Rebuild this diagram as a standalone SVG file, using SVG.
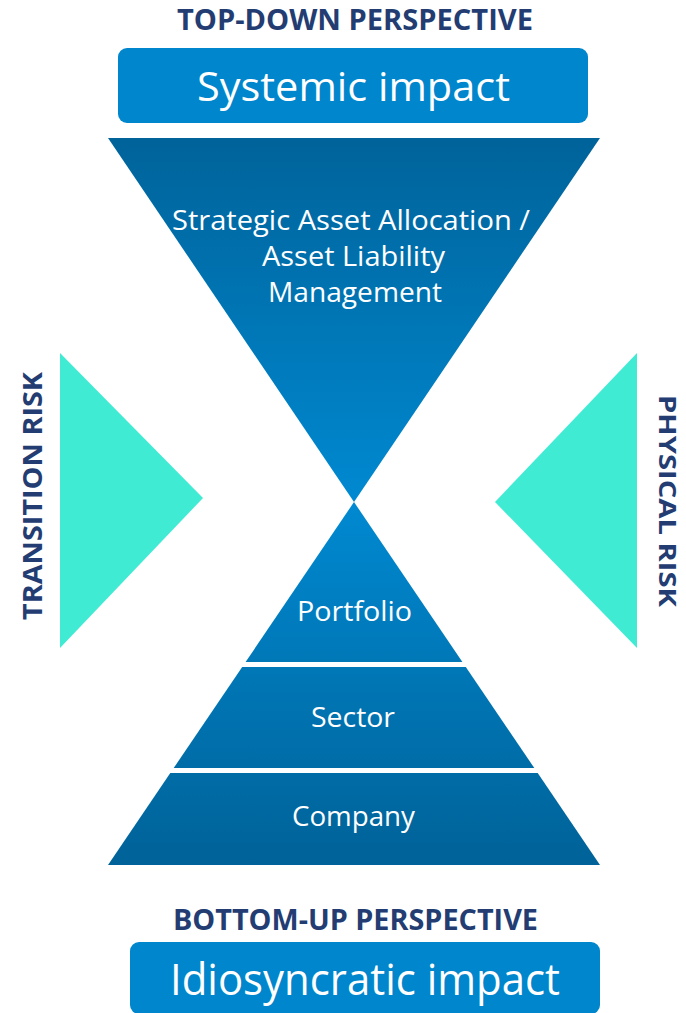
<svg xmlns="http://www.w3.org/2000/svg" width="686" height="1013" viewBox="0 0 686 1013">
  <defs>
    <linearGradient id="gTop" gradientUnits="userSpaceOnUse" x1="0" y1="138" x2="0" y2="502">
      <stop offset="0" stop-color="#00639A"/>
      <stop offset="1" stop-color="#0089D1"/>
    </linearGradient>
    <linearGradient id="gPyr" gradientUnits="userSpaceOnUse" x1="0" y1="502" x2="0" y2="865">
      <stop offset="0" stop-color="#0089D1"/>
      <stop offset="1" stop-color="#006298"/>
    </linearGradient>
    <style>
      .head { font-family: "Open Sans", "Noto Sans", "Liberation Sans", sans-serif; font-weight: 700; fill: #233D73; }
      .box { fill: #0086CC; }
      .boxtxt { font-family: "Open Sans", "Noto Sans", "Liberation Sans", sans-serif; font-weight: 400; fill: #FFFFFF; text-anchor: middle; }
      .lbl { font-family: "Open Sans", "Noto Sans", "Liberation Sans", sans-serif; font-weight: 400; fill: #FFFFFF; font-size: 27px; text-anchor: middle; }
      .teal { fill: #40EBD4; }
    </style>
  </defs>
  <rect width="686" height="1013" fill="#FFFFFF"/>

  <g id="top-heading">
    <text class="head" x="177" y="30" font-size="28" textLength="356" lengthAdjust="spacingAndGlyphs">TOP-DOWN PERSPECTIVE</text>
  </g>
  <g id="systemic-impact">
    <rect class="box" x="118" y="48" width="470" height="75" rx="9"/>
    <text class="boxtxt" x="353.5" y="101" font-size="40" textLength="313" lengthAdjust="spacingAndGlyphs">Systemic impact</text>
  </g>

  <g id="saa-alm">
    <polygon points="108,138 600,138 354,502" fill="url(#gTop)"/>
    <text class="lbl" x="351" y="230" textLength="358" lengthAdjust="spacingAndGlyphs">Strategic Asset Allocation /</text>
    <text class="lbl" x="353.5" y="266" textLength="183" lengthAdjust="spacingAndGlyphs">Asset Liability</text>
    <text class="lbl" x="355" y="302" textLength="174" lengthAdjust="spacingAndGlyphs">Management</text>
  </g>

  <g id="transition-risk">
    <polygon class="teal" points="60,353 203,498 60,648"/>
    <text class="head" transform="translate(42,496) rotate(-90)" text-anchor="middle" font-size="27" textLength="248" lengthAdjust="spacingAndGlyphs">TRANSITION RISK</text>
  </g>

  <g id="physical-risk">
    <polygon class="teal" points="637,353 495,502 637,648"/>
    <text class="head" transform="translate(659,501) rotate(90)" text-anchor="middle" font-size="24" textLength="212" lengthAdjust="spacingAndGlyphs">PHYSICAL RISK</text>
  </g>

  <g id="portfolio">
    <polygon points="354,502 462.4,662 245.6,662" fill="url(#gPyr)"/>
    <text class="lbl" x="354.5" y="621" textLength="115" lengthAdjust="spacingAndGlyphs">Portfolio</text>
  </g>
  <g id="sector">
    <polygon points="242.2,667 465.8,667 534.3,768 173.7,768" fill="url(#gPyr)"/>
    <text class="lbl" x="353" y="727" textLength="84" lengthAdjust="spacingAndGlyphs">Sector</text>
  </g>
  <g id="company">
    <polygon points="170.3,773 537.7,773 600,865 108,865" fill="url(#gPyr)"/>
    <text class="lbl" x="353.5" y="826" textLength="123" lengthAdjust="spacingAndGlyphs">Company</text>
  </g>

  <g id="bottom-heading">
    <text class="head" x="173" y="930" font-size="28" textLength="365" lengthAdjust="spacingAndGlyphs">BOTTOM-UP PERSPECTIVE</text>
  </g>
  <g id="idiosyncratic-impact">
    <rect class="box" x="130" y="942" width="470" height="72" rx="9"/>
    <text class="boxtxt" x="365" y="995" font-size="43" textLength="390" lengthAdjust="spacingAndGlyphs">Idiosyncratic impact</text>
  </g>
</svg>
